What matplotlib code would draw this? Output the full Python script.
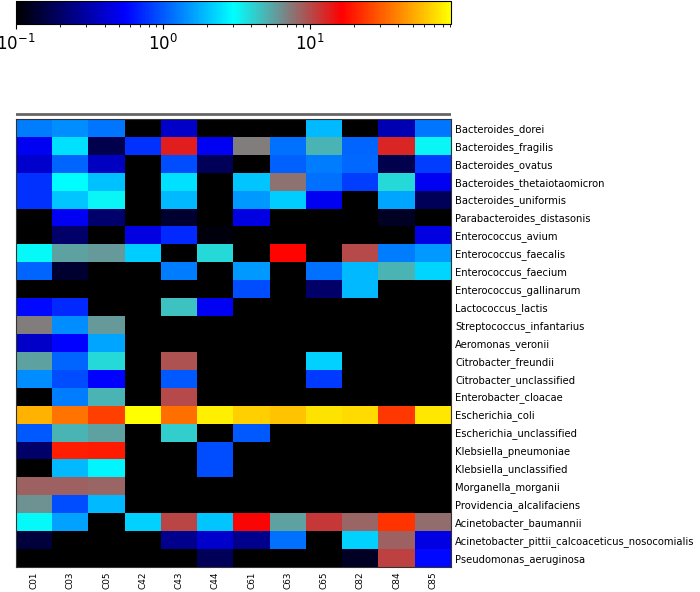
import numpy as np
import matplotlib
matplotlib.use('Agg')
import matplotlib.pyplot as plt
from matplotlib.colors import LinearSegmentedColormap, LogNorm

samples = ['C01', 'C03', 'C05', 'C42', 'C43', 'C44', 'C61', 'C63', 'C65', 'C82', 'C84', 'C85']

species = ['Bacteroides_dorei', 'Bacteroides_fragilis', 'Bacteroides_ovatus',
           'Bacteroides_thetaiotaomicron', 'Bacteroides_uniformis',
           'Parabacteroides_distasonis', 'Enterococcus_avium', 'Enterococcus_faecalis',
           'Enterococcus_faecium', 'Enterococcus_gallinarum', 'Lactococcus_lactis',
           'Streptococcus_infantarius', 'Aeromonas_veronii', 'Citrobacter_freundii',
           'Citrobacter_unclassified', 'Enterobacter_cloacae', 'Escherichia_coli',
           'Escherichia_unclassified', 'Klebsiella_pneumoniae', 'Klebsiella_unclassified',
           'Morganella_morganii', 'Providencia_alcalifaciens', 'Acinetobacter_baumannii',
           'Acinetobacter_pittii_calcoaceticus_nosocomialis', 'Pseudomonas_aeruginosa']

# relative abundance (%), one row per species, columns follow samples
abund = [
    [1.27, 1.4, 1.2, 0, 0.38, 0, 0, 0, 1.9, 0, 0.34, 1.2],
    [0.51, 2.45, 0.17, 0.77, 13.5, 0.51, 7.1, 1.17, 5.0, 1.09, 12.7, 3.2],
    [0.39, 1.09, 0.36, 0, 0.92, 0.18, 0, 1.05, 1.27, 1.12, 0.17, 0.83],
    [0.77, 3.0, 2.0, 0, 2.45, 0, 2.05, 7.8, 1.17, 0.83, 3.9, 0.51],
    [0.77, 2.05, 3.2, 0, 1.9, 0, 1.53, 2.15, 0.51, 0, 1.65, 0.18],
    [0, 0.51, 0.21, 0, 0.14, 0, 0.46, 0, 0, 0, 0.13, 0],
    [0, 0.2, 0, 0.46, 0.72, 0.11, 0, 0, 0, 0, 0, 0.46],
    [3.1, 5.6, 6.0, 2.15, 0, 3.9, 0, 16.6, 0, 10.0, 1.27, 1.53],
    [1.09, 0.14, 0, 0, 1.27, 0, 1.53, 0, 1.17, 1.9, 5.0, 2.3],
    [0, 0, 0, 0, 0, 0, 0.92, 0, 0.2, 1.9, 0, 0],
    [0.59, 0.72, 0, 0, 4.5, 0.51, 0, 0, 0, 0, 0, 0],
    [7.1, 1.4, 6.0, 0, 0, 0, 0, 0, 0, 0, 0, 0],
    [0.38, 0.55, 1.65, 0, 0, 0, 0, 0, 0, 0, 0, 0],
    [5.6, 1.09, 3.9, 0, 9.6, 0, 0, 0, 2.2, 0, 0, 0],
    [1.4, 0.92, 0.56, 0, 1.0, 0, 0, 0, 0.8, 0, 0, 0],
    [0, 1.27, 5.0, 0, 10.0, 0, 0, 0, 0, 0, 0, 0],
    [54, 35, 25, 91, 34, 81, 65, 60, 74, 70, 24, 77],
    [1.0, 5.0, 5.6, 0, 4.2, 0, 1.0, 0, 0, 0, 0, 0],
    [0.2, 20, 19.5, 0, 0, 0.92, 0, 0, 0, 0, 0, 0],
    [0, 1.9, 2.85, 0, 0, 0.92, 0, 0, 0, 0, 0, 0],
    [8.7, 8.7, 8.3, 0, 0, 0, 0, 0, 0, 0, 0, 0],
    [6.2, 0.92, 1.9, 0, 0, 0, 0, 0, 0, 0, 0, 0],
    [3.1, 1.6, 0, 2.2, 10.3, 2.05, 16, 5.6, 11.4, 8.3, 23, 8.0],
    [0.15, 0, 0, 0, 0.26, 0.39, 0.26, 1.17, 0, 2.2, 8.7, 0.46],
    [0, 0, 0, 0, 0, 0.18, 0, 0, 0, 0.13, 10.8, 0.59],
]

# black - blue - cyan - red - yellow
bbcry = LinearSegmentedColormap.from_list(
    'bbcry', [(0, 0, 0), (0, 0, 1), (0, 1, 1), (1, 0, 0), (1, 1, 0)])
bbcry.set_bad('black')
bbcry.set_under('black')

data = np.ma.masked_less_equal(np.array(abund, dtype=float), 0)

fig = plt.figure(figsize=(7.0, 5.92), dpi=100)

ax = fig.add_axes([0.023, 0.0427, 0.6214, 0.7563])
im = ax.imshow(data, cmap=bbcry, norm=LogNorm(vmin=0.1, vmax=data.max()),
               aspect='auto', interpolation='nearest')
ax.set_xticks(range(len(samples)))
ax.set_xticklabels(samples, rotation=90, fontsize=6.4)
ax.set_yticks(range(len(species)))
ax.set_yticklabels(species, fontsize=7.2)
ax.yaxis.tick_right()
ax.tick_params(axis='y', length=0, pad=3)
ax.tick_params(axis='x', length=0, pad=3.5)
for s in ax.spines.values():
    s.set_color('#333333')
    s.set_linewidth(0.8)

# flat column dendrogram line
dax = fig.add_axes([0.023, 0.801, 0.6214, 0.012])
dax.axhline(0.5, color='#666666', linewidth=2)
dax.set_xlim(0, 1)
dax.set_ylim(0, 1)
dax.axis('off')

cax = fig.add_axes([0.023, 0.959, 0.621, 0.039])
cb = fig.colorbar(im, cax=cax, orientation='horizontal')
cax.tick_params(labelsize=12)

fig.savefig('out.png', dpi=100)
